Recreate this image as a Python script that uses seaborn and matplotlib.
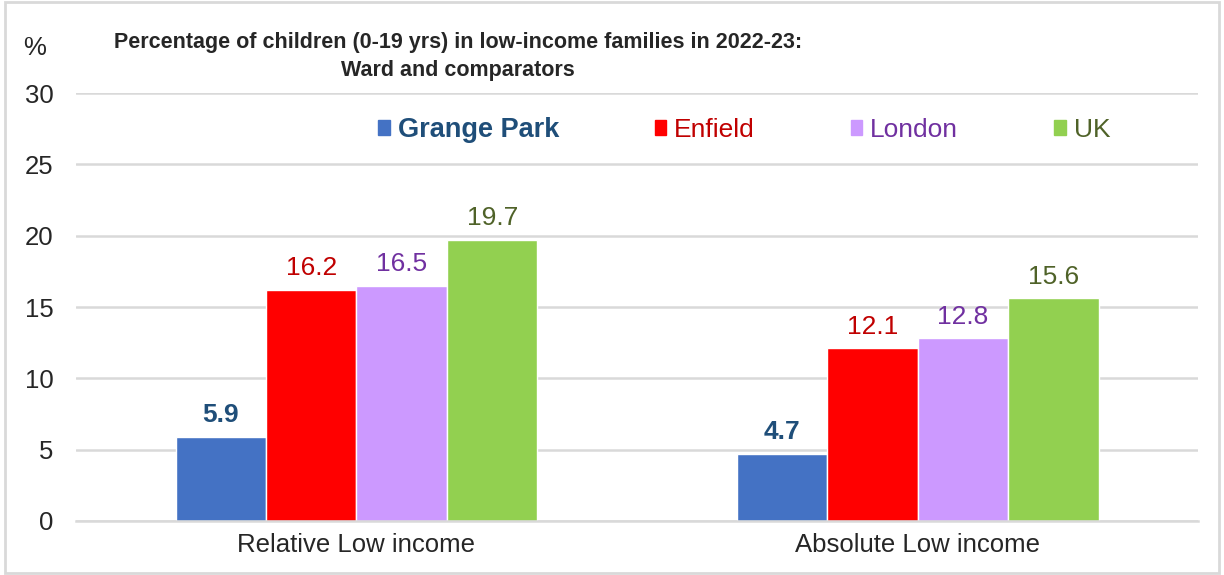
import pandas as pd
import matplotlib
matplotlib.use('Agg')
import matplotlib.pyplot as plt
import seaborn as sns
from matplotlib.patches import Rectangle

# Data
measures = ['Relative Low income', 'Absolute Low income']
areas = ['Grange Park', 'Enfield', 'London', 'UK']
grange_park = [5.9, 4.7]
enfield = [16.2, 12.1]
london = [16.5, 12.8]
uk = [19.7, 15.6]

bar_colors = ['#4472C4', '#FF0000', '#CC99FF', '#92D050']
text_colors = ['#1F4E79', '#C00000', '#7030A0', '#4F6228']

df = pd.DataFrame({
    'Measure': measures * 4,
    'Area': [a for a in areas for _ in measures],
    'Value': grange_park + enfield + london + uk,
})

sns.set_style('white')
plt.rcParams['font.family'] = ['Liberation Sans', 'DejaVu Sans']

fig = plt.figure(figsize=(12.24, 5.75), dpi=100)
ax = fig.add_axes([0.062, 0.094, 0.917, 0.744])

sns.barplot(data=df, x='Measure', y='Value', hue='Area', order=measures,
            hue_order=areas, palette=bar_colors, width=0.645, saturation=1,
            gap=0, ax=ax, legend=False)

ax.set_ylim(0, 30)
ax.set_xlim(-0.5, 1.5)
ax.set_yticks(range(0, 31, 5))
ax.yaxis.grid(True, color='#D9D9D9', linewidth=1.8)
ax.set_axisbelow(True)
for side in ['top', 'right', 'left']:
    ax.spines[side].set_visible(False)
ax.spines['bottom'].set_color('#D9D9D9')
ax.spines['bottom'].set_linewidth(1.8)
ax.tick_params(axis='both', length=0, labelsize=18.5)
ax.tick_params(axis='x', pad=9)
ax.tick_params(axis='y', pad=16)
ax.set_xlabel('')
ax.set_ylabel('')

# Value labels above bars
for i, cont in enumerate(ax.containers):
    ax.bar_label(cont, fmt='%.1f', padding=7, fontsize=19,
                 color=text_colors[i],
                 fontweight='bold' if i == 0 else 'normal')

# Legend
handles = [Rectangle((0, 0), 1, 1, color=c) for c in bar_colors]
leg = ax.legend(handles, areas, ncol=4, loc='center left',
                bbox_to_anchor=(0.269, 0.914), frameon=False, fontsize=19,
                handlelength=0.45, handleheight=0.5, handletextpad=0.3,
                columnspacing=3.62, borderpad=0, borderaxespad=0)
for i, t in enumerate(leg.get_texts()):
    t.set_color(text_colors[i])
    if i == 0:
        t.set_fontweight('bold')
        t.set_fontsize(19.5)

fig.text(0.374, 0.902, 'Percentage of children (0-19 yrs) in low-income families in 2022-23:\nWard and comparators',
         ha='center', va='center', fontsize=15.5, fontweight='bold', linespacing=1.45)
fig.text(0.019, 0.917, '%', fontsize=18.5, ha='left', va='center')

# light frame around the figure
fig.patches.append(Rectangle((0.004, 0.004), 0.992, 0.992, transform=fig.transFigure,
                             fill=False, edgecolor='#D9D9D9', linewidth=2))

fig.savefig('out.png', dpi=100)
